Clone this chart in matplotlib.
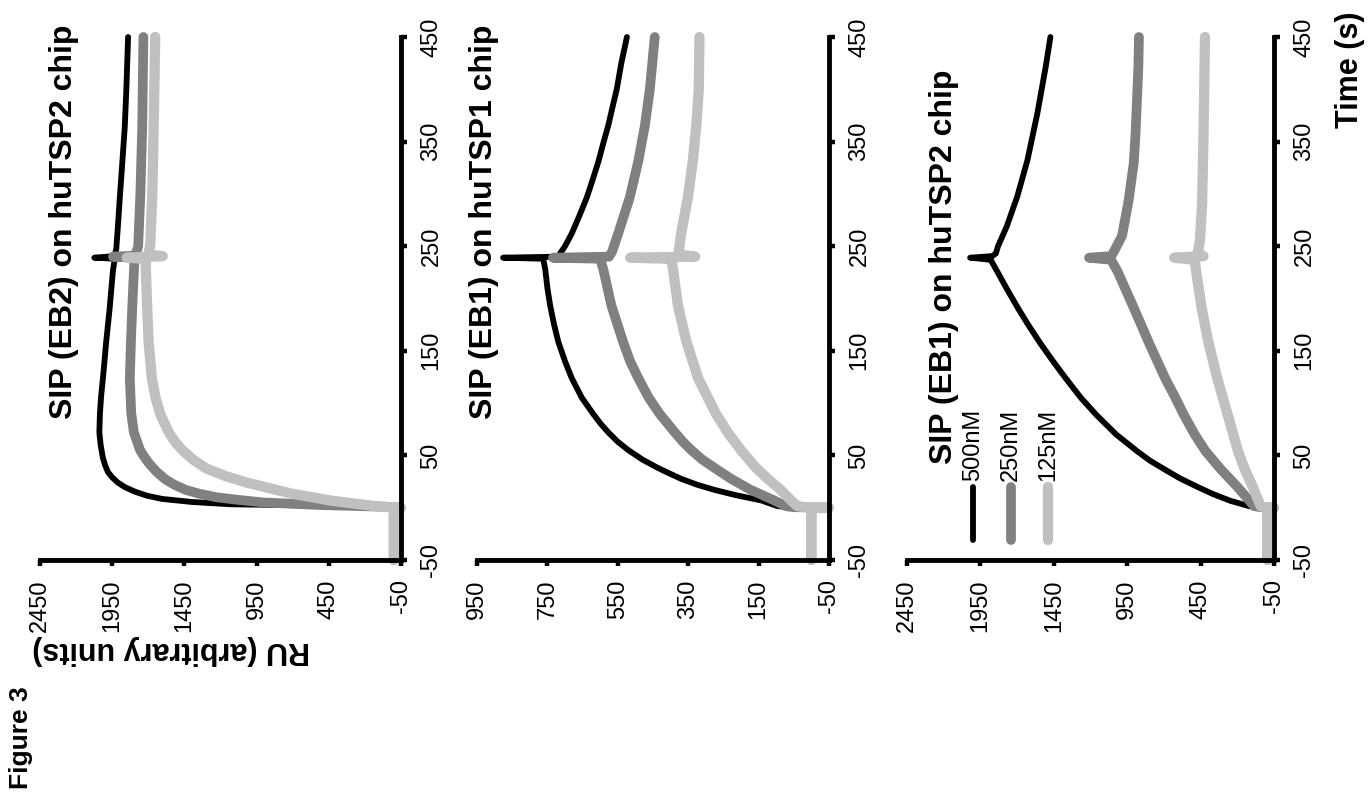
import matplotlib.pyplot as plt

plt.rcParams["font.family"] = ["Liberation Sans", "DejaVu Sans"]

# sensorgrams, time (s) vs response (RU); one list pair per concentration

# SIP (EB2) on huTSP2 chip
p1_t_500 = [-50, -0.5, 0, 0.8, 2, 3.3, 5.5, 8.4, 11.5, 15.3, 19.5, 23.9, 29, 34.2, 41, 47.9, 60, 72, 90, 106,
            130, 158, 190, 226.6, 238, 239, 240.5, 247, 270, 295, 330, 364, 400, 450]
p1_ru_500 = [0, 0, -45, 40, 500, 1135, 1400, 1605, 1710, 1792, 1860, 1910, 1950, 1980, 2000, 2015, 2030, 2039, 2035, 2027,
             2010, 1992, 1968, 1945, 1932, 2074, 1935, 1922, 1910, 1898, 1880, 1863, 1852, 1840]
p1_t_250 = [-50, -0.5, 0, 0.8, 2.5, 5, 7.5, 10, 13.5, 17, 22, 27, 34, 41, 48, 55, 72, 90, 123.5, 160,
            192, 233.5, 239, 240, 241, 250, 300, 364, 450]
p1_ru_250 = [0, 0, -45, 30, 500, 900, 1080, 1229, 1350, 1440, 1520, 1581, 1640, 1687, 1725, 1757, 1800, 1818, 1828, 1820,
             1811, 1797, 1795, 1945, 1790, 1770, 1755, 1742, 1734]
p1_t_125 = [-50, -0.5, 0, 1, 2.6, 6.7, 13.6, 24, 30, 37.6, 46, 55, 63, 72, 89, 105, 123.5, 158, 200, 226.6,
            238, 239, 240.5, 242, 250.7, 300, 364, 450]
p1_ru_125 = [0, 0, -50, 100, 196, 431, 713, 1018, 1160, 1300, 1390, 1464, 1515, 1558, 1616, 1650, 1675, 1698, 1710, 1717,
             1718, 1850, 1600, 1700, 1687, 1672, 1663, 1652]

# SIP (EB1) on huTSP1 chip
p2_t_500 = [-50, -0.5, 0, 0.5, 1.5, 7, 12, 17, 22, 27.6, 33, 38, 46, 55, 63, 72, 80, 89.7, 105, 124,
            140, 158.6, 175, 193, 210, 227.6, 238, 239, 240, 243, 250, 262, 280, 296.6, 315, 331, 350, 365.5, 383, 400,
            425, 450]
p2_ru_500 = [0, 0, -45, 60, 96, 143, 215, 275, 325, 370, 405, 436, 480, 520, 550, 577, 598, 620, 652, 681,
             700, 719, 731, 742, 750, 756, 762, 876, 720, 714, 700, 681, 658, 638, 620, 605, 590, 577, 565, 553,
             540, 524]
p2_t_250 = [-50, -0.5, 0, 0.5, 1.5, 7, 17, 27.6, 38, 46, 55, 63, 72, 89.7, 105, 124, 140, 158.6, 193, 227.6,
            238, 239, 240, 245, 262, 296.6, 331, 365.5, 400, 450]
p2_ru_250 = [0, 0, -45, 50, 73, 106, 172, 228, 275, 310, 341, 365, 388, 431, 462, 492, 515, 535, 568, 591,
             600, 734, 575, 566, 549, 516, 492, 473, 459, 445]
p2_t_125 = [-50, -0.5, 0, 0.5, 1.5, 7, 17, 27.6, 38, 55, 72, 89.7, 124, 158.6, 193, 227.6, 238, 239, 240, 242,
            252, 262, 296.6, 331, 365.5, 400, 450]
p2_ru_125 = [0, 0, -50, 20, 40, 58, 87, 124, 157, 200, 238, 271, 322, 355, 379, 393, 398, 515, 330, 378,
             374, 370, 351, 337, 327, 320, 318]

# SIP (EB1) on huTSP2 chip
p3_t_500 = [-50, -0.5, 0, 0.5, 1.5, 6.5, 13, 20, 28, 37, 45, 54, 70, 88.7, 105, 123, 140, 157, 175, 191,
            208, 225.7, 237, 239, 240.5, 243, 250, 268.7, 297, 332, 377, 421.6, 450]
p3_ru_500 = [-5, -5, -50, 60, 120, 245, 365, 473, 590, 700, 795, 882, 1025, 1160, 1265, 1365, 1455, 1541, 1625, 1695,
             1765, 1835, 1880, 2020, 1870, 1845, 1830, 1771, 1700, 1630, 1562, 1505, 1473]
p3_t_250 = [-50, -0.5, 0, 0.5, 1.5, 20, 37, 54, 70, 88.7, 106, 123, 157, 191, 225.7, 237, 239, 240.5, 245, 260,
            294, 330, 358, 421, 450]
p3_ru_250 = [-5, -5, -50, 40, 86, 200, 314, 416, 490, 564, 625, 689, 800, 905, 1015, 1060, 1210, 1060, 1040, 985,
             940, 905, 893, 874, 870]
p3_t_125 = [-50, -0.5, 0, 0.5, 1.5, 20, 37, 54, 88.7, 123, 157, 191, 225.7, 237, 239, 240.5, 243, 255, 290, 358,
            450]
p3_ru_125 = [-5, -5, -50, 20, 41, 95, 150, 195, 265, 335, 395, 443, 480, 490, 630, 430, 470, 455, 440, 430,
             420]

concentrations = ["500nM", "250nM", "125nM"]
titles = ["SIP (EB2) on huTSP2 chip", "SIP (EB1) on huTSP1 chip", "SIP (EB1) on huTSP2 chip"]
ru_ticks = [[2450, 1950, 1450, 950, 450, -50],
            [950, 750, 550, 350, 150, -50],
            [2450, 1950, 1450, 950, 450, -50]]
time_ticks = [-50, 50, 150, 250, 350, 450]

curves = [
    [(p1_t_500, p1_ru_500), (p1_t_250, p1_ru_250), (p1_t_125, p1_ru_125)],
    [(p2_t_500, p2_ru_500), (p2_t_250, p2_ru_250), (p2_t_125, p2_ru_125)],
    [(p3_t_500, p3_ru_500), (p3_t_250, p3_ru_250), (p3_t_125, p3_ru_125)],
]

colors = ["#000000", "#808080", "#c0c0c0"]
widths = [4.2, 7.0, 7.4]

W, H = 1370, 798
fig = plt.figure(figsize=(W / 100, H / 100), dpi=100)


def fx(x):
    return x / W


def fy(y):
    return 1 - y / H


# the page is turned a quarter: RU runs leftwards, time runs upwards
boxes = [(40, 401), (477, 829), (907, 1274)]
top, bottom = 37, 560
title_pos = [(64, 222), (484, 222), (944, 267)]

axes = []
for i in range(3):
    left, right = boxes[i]
    ax = fig.add_axes([fx(left), fy(bottom), (right - left) / W, (bottom - top) / H])
    for (t, ru), c, lw in zip(curves[i], colors, widths):
        ax.plot(ru, t, color=c, lw=lw, solid_joinstyle="round", solid_capstyle="round", clip_on=False)
    ax.set_xlim(ru_ticks[i][0], ru_ticks[i][-1])
    ax.set_ylim(-50, 450)
    ax.set_xticks(ru_ticks[i])
    ax.set_xticklabels([str(v) for v in ru_ticks[i]], rotation=90)
    ax.yaxis.tick_right()
    ax.set_yticks(time_ticks)
    ax.set_yticklabels([str(v) for v in time_ticks], rotation=90, va="center")
    for side in ["left", "top"]:
        ax.spines[side].set_visible(False)
    for side in ["bottom", "right"]:
        ax.spines[side].set_linewidth(3.5)
    ax.tick_params(direction="out", length=4, width=3.2, labelsize=17, pad=10)
    ax.patch.set_visible(False)
    fig.text(fx(title_pos[i][0]), fy(title_pos[i][1]), titles[i], rotation=90,
             ha="center", va="center", fontsize=23, fontweight="bold")
    axes.append(ax)

# hand-drawn legend in the last panel
ax3 = axes[2]
for xa, c, lw, lab in zip([0.180, 0.283, 0.384], colors, widths, concentrations):
    ax3.plot([xa, xa], [0.038, 0.140], color=c, lw=lw, solid_capstyle="round",
             transform=ax3.transAxes, clip_on=False)
    ax3.text(xa, 0.152, lab, transform=ax3.transAxes, rotation=90,
             ha="center", va="bottom", fontsize=17)

fig.text(fx(171), fy(650), "RU (arbitrary units)", rotation=180, ha="center", va="center",
         fontsize=22, fontweight="bold")
fig.text(fx(1350), fy(70), "Time (s)", rotation=90, ha="center", va="center",
         fontsize=22, fontweight="bold")
fig.text(fx(21), fy(738), "Figure 3", rotation=90, ha="center", va="center",
         fontsize=19, fontweight="bold")

fig.savefig("out.png", dpi=100)
